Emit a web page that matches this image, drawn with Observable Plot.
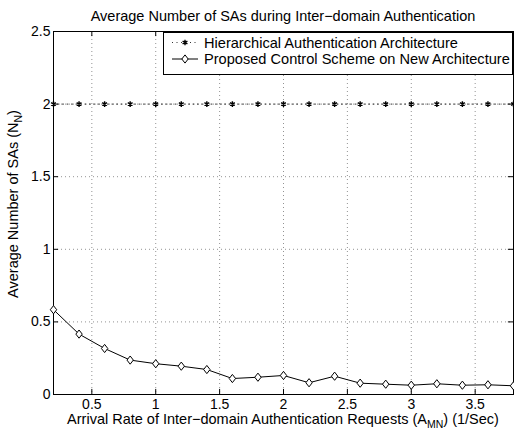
<!DOCTYPE html>
<html><head><meta charset="utf-8">
<script src="https://cdn.jsdelivr.net/npm/d3@7"></script>
<script src="https://cdn.jsdelivr.net/npm/@observablehq/plot@0.6"></script>
<style>body{margin:0;background:#fff}svg{display:block;font-family:"Liberation Sans",Arial,sans-serif}</style>
</head><body><div id="chart"></div>
<script>
const arrivalRates = [0.2,0.4,0.6,0.8,1.0,1.2,1.4,1.6,1.8,2.0,2.2,2.4,2.6,2.8,3.0,3.2,3.4,3.6,3.8];
const hierarchical = [2,2,2,2,2,2,2,2,2,2,2,2,2,2,2,2,2,2,2];
const proposed = [0.584,0.416,0.317,0.237,0.212,0.195,0.172,0.110,0.119,0.131,0.081,0.126,0.078,0.071,0.064,0.074,0.064,0.067,0.060];
const xTicks = [0.5,1,1.5,2,2.5,3,3.5];
const yTicks = [0,0.5,1,1.5,2,2.5];
const seriesNames = ["Hierarchical Authentication Architecture","Proposed Control Scheme on New Architecture"];
const titleText = "Average Number of SAs during Inter\u2212domain Authentication";

const hData = arrivalRates.map((x,i)=>({x, y: hierarchical[i]}));
const pData = arrivalRates.map((x,i)=>({x, y: proposed[i]}));

const diamond = {
  draw(ctx, size) {
    const r = Math.sqrt(size / Math.PI);
    const w = r * 0.78;
    ctx.moveTo(0, -r); ctx.lineTo(w, 0); ctx.lineTo(0, r); ctx.lineTo(-w, 0); ctx.closePath();
  }
};

const svg = Plot.plot({
  width: 514, height: 429,
  marginLeft: 53, marginRight: 1, marginTop: 31, marginBottom: 35,
  style: {fontFamily: '"Liberation Sans", Arial, sans-serif', fontSize: "14px", color:"#000", background:"#fff"},
  x: {domain: [0.2, 3.8]},
  y: {domain: [0, 2.5]},
  marks: [
    Plot.ruleX(xTicks, {x: d=>d, stroke: "#777", strokeDasharray: "1,3", strokeWidth: 0.8}),
    Plot.ruleY(yTicks, {y: d=>d, stroke: "#777", strokeDasharray: "1,3", strokeWidth: 0.8}),
    Plot.ruleX(xTicks, {x: d=>d, y1: 0, y2: 0.035, stroke: "#000"}),
    Plot.ruleX(xTicks, {x: d=>d, y1: 2.465, y2: 2.5, stroke: "#000"}),
    Plot.ruleY(yTicks, {y: d=>d, x1: 0.2, x2: 0.24, stroke: "#000"}),
    Plot.ruleY(yTicks, {y: d=>d, x1: 3.76, x2: 3.8, stroke: "#000"}),
    Plot.frame({stroke: "#000"}),
    Plot.axisX({ticks: xTicks, tickSize: 0, tickPadding: 5, label: null, fontSize: 14, tickFormat: d => String(d)}),
    Plot.axisY({ticks: yTicks, tickSize: 0, tickPadding: 3, label: null, fontSize: 14, tickFormat: d => String(d)}),
    Plot.line(hData, {x: "x", y: "y", stroke: "#333", strokeDasharray: "1,3.5", strokeWidth: 1}),
    Plot.dot(hData, {x: "x", y: "y", symbol: "asterisk", r: 2.6, stroke: "#000", strokeWidth: 1.4}),
    Plot.line(pData, {x: "x", y: "y", stroke: "#000", strokeWidth: 1}),
    Plot.dot(pData, {x: "x", y: "y", symbol: diamond, r: 4.1, stroke: "#000", fill: "#fff", strokeWidth: 1})
  ]
});

const s = d3.select(svg);
s.append("text").attr("x", 283).attr("y", 21).attr("text-anchor","middle").attr("font-size", 14.5).text(titleText);

const xl = s.append("text").attr("x", 283).attr("y", 424).attr("text-anchor","middle").attr("font-size", 14.5);
xl.append("tspan").text("Arrival Rate of Inter\u2212domain Authentication Requests (A");
xl.append("tspan").attr("font-size", 10.5).attr("dy", 4).text("MN");
xl.append("tspan").attr("dy", -4).text(") (1/Sec)");

const yl = s.append("text").attr("transform","translate(18,204) rotate(-90)").attr("text-anchor","middle").attr("font-size", 14.5);
yl.append("tspan").text("Average Number of SAs (N");
yl.append("tspan").attr("font-size", 10.5).attr("dy", 4).text("N");
yl.append("tspan").attr("dy", -4).text(")");

// legend
const lg = s.append("g");
lg.append("rect").attr("x",163.5).attr("y",32.5).attr("width",349).attr("height",42).attr("fill","#fff").attr("stroke","#000");
const rows = [42.5, 59];
lg.append("line").attr("x1",172).attr("x2",198).attr("y1",rows[0]).attr("y2",rows[0]).attr("stroke","#333").attr("stroke-dasharray","1,3.5");
lg.append("path").attr("transform",`translate(185,${rows[0]})`).attr("d", d3.symbol(d3.symbolAsterisk, 2.6*2.6*Math.PI)()).attr("stroke","#000").attr("stroke-width",1.4).attr("fill","none");
lg.append("line").attr("x1",172).attr("x2",198).attr("y1",rows[1]).attr("y2",rows[1]).attr("stroke","#000");
lg.append("path").attr("transform",`translate(185,${rows[1]})`).attr("d", d3.symbol(diamond, 4.1*4.1*Math.PI)()).attr("stroke","#000").attr("fill","#fff");
seriesNames.forEach((n,i)=>{
  lg.append("text").attr("x",204).attr("y",rows[i]).attr("dy","0.35em").attr("text-anchor","start").attr("font-size",14.6).text(n);
});

document.getElementById("chart").appendChild(svg);
</script></body></html>
